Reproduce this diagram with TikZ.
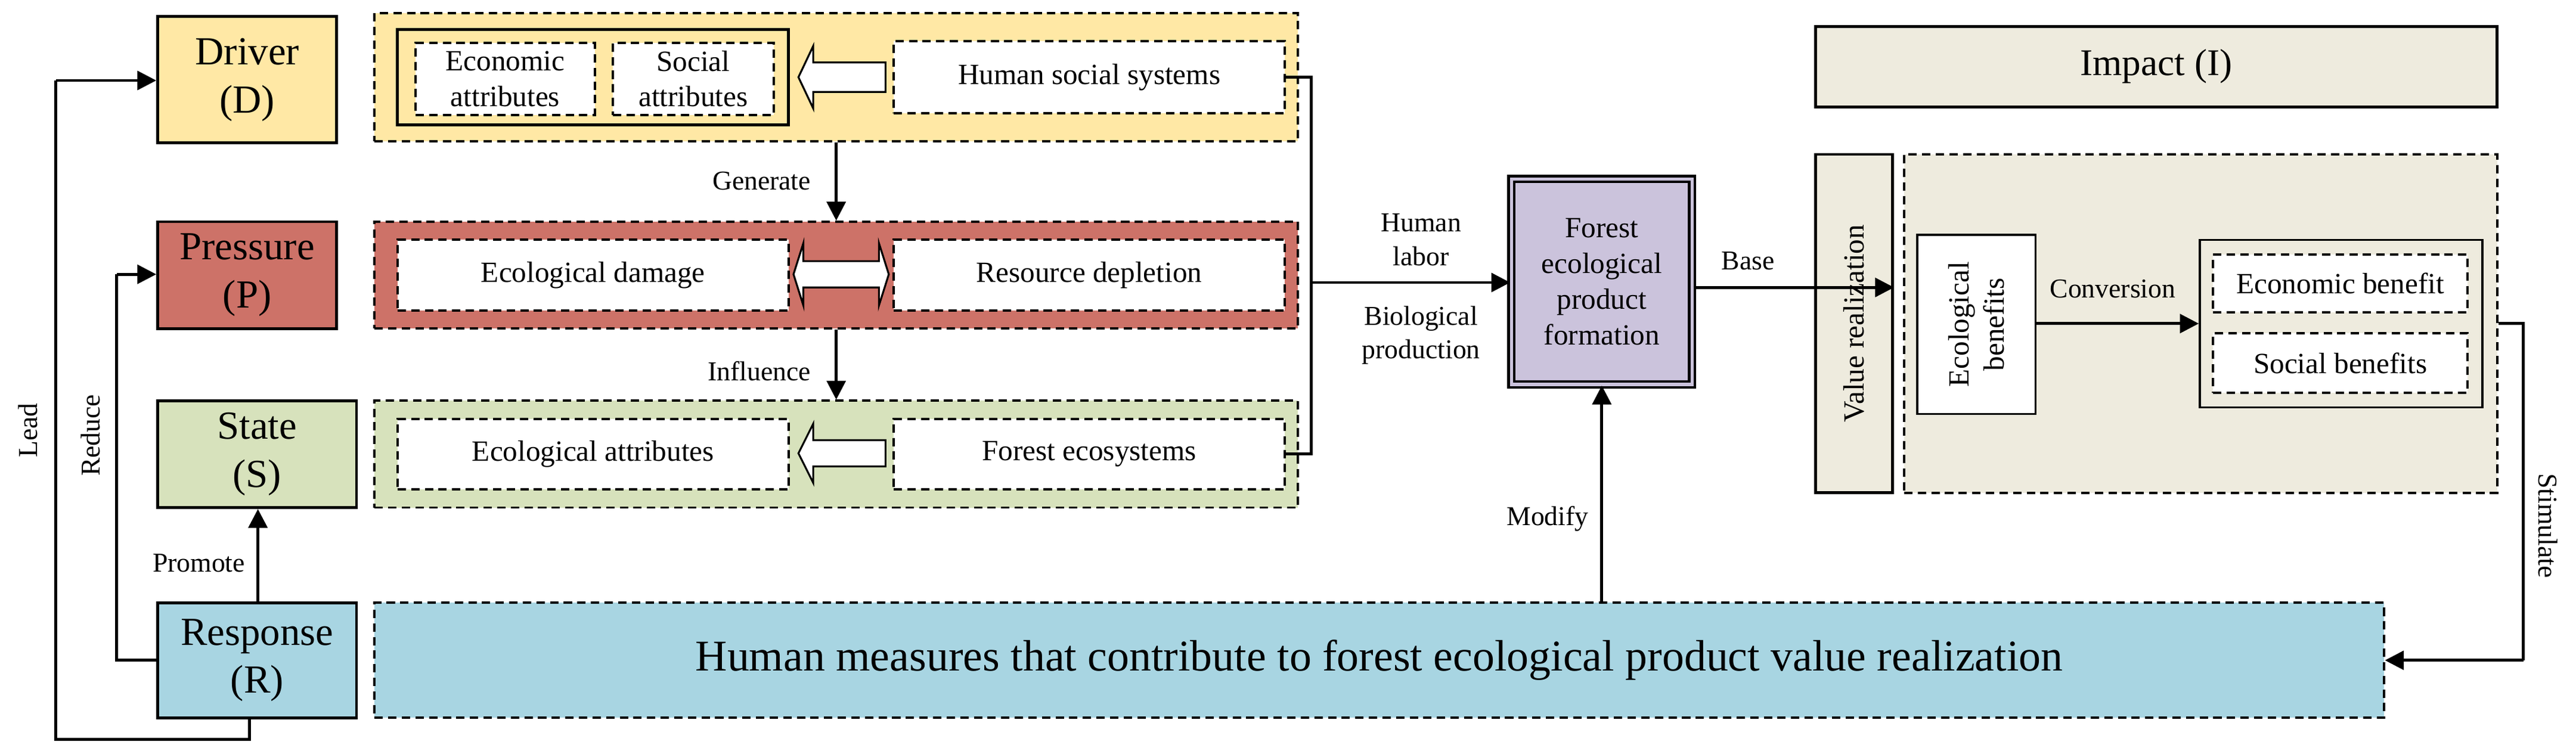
\documentclass[tikz,border=0pt]{standalone}
\usepackage{fontspec}
\setmainfont{Liberation Serif}
\usetikzlibrary{arrows.meta}
\definecolor{cyel}{HTML}{FFE8A5}
\definecolor{cred}{HTML}{CD7268}
\definecolor{cgrn}{HTML}{D7E2BC}
\definecolor{cblu}{HTML}{A8D5E2}
\definecolor{cpur}{HTML}{CBC3DC}
\definecolor{cbei}{HTML}{EEEBDE}
\tikzset{
  u/.style={x=0.02756cm,y=-0.02756cm},
  sol/.style={draw,line width=1.4pt,inner sep=0pt,align=center},
  dsh/.style={draw,line width=1.1pt,dash pattern=on 4pt off 2.5pt,inner sep=0pt,align=center},
  big/.style={font=\fontsize{19}{23}\selectfont},
  mid/.style={font=\fontsize{14}{17}\selectfont},
  lab/.style={font=\fontsize{13}{16}\selectfont,align=center},
  con/.style={line width=1.4pt},
  arr/.style={con,-{Triangle[length=9pt,width=9pt]}},
  hol/.style={draw,line width=0.9pt,fill=white},
}
\newcommand{\bx}[7]{\node[#2,minimum width={(#5-#3)*0.02756cm},minimum height={(#6-#4)*0.02756cm}] (#1) at ({(#3+#5)/2},{(#4+#6)/2}) {#7};}
\newcommand{\rbx}[7]{\node[#2,rotate=90,minimum height={(#5-#3)*0.02756cm},minimum width={(#6-#4)*0.02756cm}] (#1) at ({(#3+#5)/2},{(#4+#6)/2}) {#7};}
\begin{document}
\begin{tikzpicture}[u]
\useasboundingbox[fill=white] (0,0) rectangle (1568,459);
% DPSIR column
\bx{D}{sol,fill=cyel,big}{96}{10}{205}{87}{Driver\\(D)}
\bx{P}{sol,fill=cred,big}{96}{135}{205}{200}{Pressure\\(P)}
\bx{S}{sol,fill=cgrn,big}{96}{244}{217}{309}{State\\(S)}
\bx{R}{sol,fill=cblu,big}{96}{367}{217}{437}{Response\\(R)}
% rows
\bx{Y}{dsh,fill=cyel}{228}{8}{790}{86}{}
\bx{Yin}{sol}{242}{18}{480}{76}{}
\bx{EA}{dsh,fill=white,mid}{253}{26}{362}{70}{Economic\\attributes}
\bx{SA}{dsh,fill=white,mid}{373}{26}{471}{70}{Social\\attributes}
\bx{HS}{dsh,fill=white,mid}{544}{25}{782}{69}{Human social systems}
\bx{Rd}{dsh,fill=cred}{228}{135}{790}{200}{}
\bx{ED}{dsh,fill=white,mid}{242}{146}{480}{189}{Ecological damage}
\bx{RD}{dsh,fill=white,mid}{544}{146}{782}{189}{Resource depletion}
\bx{G}{dsh,fill=cgrn}{228}{244}{790}{309}{}
\bx{EAt}{dsh,fill=white,mid}{242}{255}{480}{298}{Ecological attributes}
\bx{FE}{dsh,fill=white,mid}{544}{255}{782}{298}{Forest ecosystems}
\bx{B}{dsh,fill=cblu,font=\fontsize{21}{25}\selectfont}{228}{367}{1451}{437}{Human measures that contribute to forest ecological product value realization}
% hollow arrows
\draw[hol] (539,38)--(495,38)--(495,28)--(486,47)--(495,66)--(495,56)--(539,56)--cycle;
\draw[hol] (539,268)--(495,268)--(495,258)--(486,276)--(495,294)--(495,284)--(539,284)--cycle;
\draw[hol] (483,167)--(489,148)--(489,159)--(535,159)--(535,148)--(541,167)--(535,186)--(535,175)--(489,175)--(489,186)--cycle;
% forest product
\bx{F}{draw,line width=1.2pt,double=cpur,double distance=1.6pt,fill=cpur,inner sep=0pt,align=center,mid}{920}{109}{1030}{234}{Forest\\ecological\\product\\formation}
% impact side
\bx{I}{sol,fill=cbei,font=\fontsize{18}{22}\selectfont}{1105}{16}{1520}{65}{Impact (I)}
\rbx{VR}{sol,fill=cbei,mid}{1105}{94}{1152}{300}{Value realization}
\bx{IB}{dsh,fill=cbei}{1159}{94}{1520}{300}{}
\rbx{EB}{sol,line width=1pt,fill=white,mid}{1167}{143}{1239}{252}{Ecological\\benefits}
\bx{OB}{sol,line width=1pt}{1339}{146}{1511}{248}{}
\bx{EcB}{dsh,fill=white,mid}{1347}{155}{1502}{190}{Economic benefit}
\bx{SoB}{dsh,fill=white,mid}{1347}{203}{1502}{239}{Social benefits}
% connectors
\draw[arr] (Y.south -| 509,0) -- (Rd.north -| 509,0);
\node[lab,anchor=east] at (498,110) {Generate};
\draw[arr] (Rd.south -| 509,0) -- (G.north -| 509,0);
\node[lab,anchor=east] at (498,226) {Influence};
\coordinate (j) at (798,172);
\draw[con] (HS.east) -| (j);
\draw[con] (FE.east) -| (j);
\draw[arr] (j) -- (F.west |- j);
\node[lab] at (865,146) {Human\\labor};
\node[lab] at (865,204) {Biological\\production};
\draw[arr] (F.east |- 0,175) -- (VR.south |- 0,175);
\node[lab] at (1064,159) {Base};
\draw[arr] (EB.south |- 0,197) -- (OB.west |- 0,197);
\node[lab] at (1286,176) {Conversion};
\coordinate (s1) at (1536,197);
\coordinate (s2) at (1536,402);
\draw[con] (IB.east |- s1) -- (s1) -- (s2);
\draw[arr] (s2) -- (B.east |- s2);
\node[lab,rotate=-90] at (1551,320) {Stimulate};
\draw[arr] (B.north -| F.south) -- (F.south);
\node[lab] at (942,316) {Modify};
\draw[arr] (R.north -| 157,0) -- (S.south -| 157,0);
\node[lab] at (121,343) {Promote};
\coordinate (r1) at (71,402);
\coordinate (r2) at (71,167);
\draw[con] (R.west |- r1) -- (r1) -- (r2);
\draw[arr] (r2) -- (P.west |- r2);
\node[lab,rotate=90] at (55,265) {Reduce};
\coordinate (l1) at (152,450);
\coordinate (l2) at (34,450);
\coordinate (l3) at (34,49);
\draw[con] (R.south -| l1) -- (l1) -- (l2) -- (l3);
\draw[arr] (l3) -- (D.west |- l3);
\node[lab,rotate=90] at (17,262) {Lead};
\end{tikzpicture}
\end{document}
